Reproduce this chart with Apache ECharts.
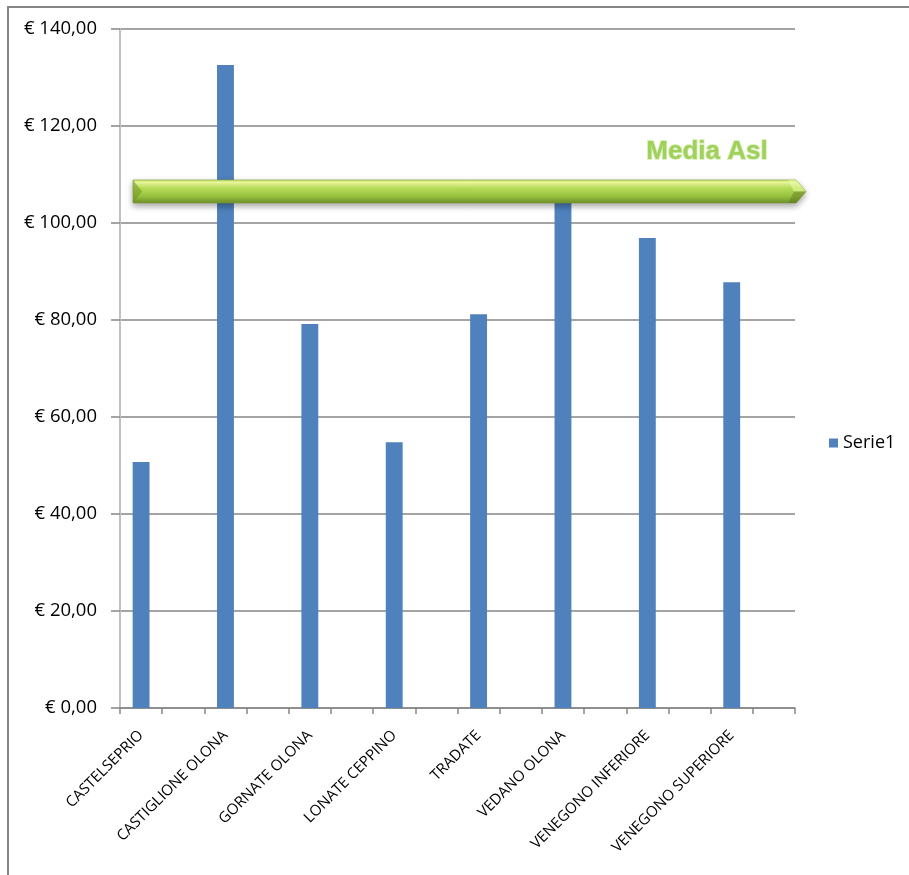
<!DOCTYPE html>
<html>
<head>
<meta charset="utf-8">
<script src="https://cdn.jsdelivr.net/npm/echarts@6/dist/echarts.min.js"></script>
<style>
  html, body { margin: 0; padding: 0; background: #fff; }
  #chart { width: 909px; height: 875px; }
</style>
</head>
<body>
<div id="chart"></div>
<script>
// Comuni of the ASL district and their per-capita cost (euro)
const comuni = [
  'CASTELSEPRIO', 'CASTIGLIONE OLONA', 'GORNATE OLONA', 'LONATE CEPPINO',
  'TRADATE', 'VEDANO OLONA', 'VENEGONO INFERIORE', 'VENEGONO SUPERIORE'
];
const serie1 = [50.7, 132.6, 79.2, 54.8, 81.2, 105.5, 96.9, 87.8];
// ASL average, drawn as the green arrow
const mediaAsl = 106.5;
const yTicks = [0, 20, 40, 60, 80, 100, 120, 140];

// The source sheet has an empty row after every comune,
// so each name is followed by a blank category slot.
const categories = [];
const values = [];
comuni.forEach((c, i) => {
  categories.push(c, '');
  values.push(serie1[i], '-');
});

const fmtEuro = v => '€ ' + v.toFixed(2).replace('.', ',');

const chart = echarts.init(document.getElementById('chart'), null, { renderer: 'canvas' });

const option = {
  backgroundColor: '#ffffff',
  animation: false,
  grid: { left: 120, right: 114, top: 29, bottom: 167, containLabel: false },
  legend: {
    data: ['Serie1'],
    left: 824, top: 429,
    itemWidth: 9, itemHeight: 9, itemGap: 6,
    icon: 'rect',
    textStyle: { fontFamily: 'Open Sans', fontSize: 18, color: '#000' }
  },
  xAxis: {
    type: 'category',
    data: categories,
    boundaryGap: true,
    axisLine: { lineStyle: { color: '#868686', width: 1.5 } },
    axisTick: { show: true, interval: 0, length: 6, lineStyle: { color: '#868686', width: 1.5 } },
    axisLabel: {
      interval: 1, rotate: 45, margin: 25,
      fontFamily: 'Open Sans', fontSize: 15, color: '#000'
    },
    splitLine: { show: false }
  },
  yAxis: {
    type: 'value',
    min: yTicks[0], max: yTicks[yTicks.length - 1], interval: 20,
    axisLine: { show: true, lineStyle: { color: '#c0c0c0', width: 2 } },
    axisTick: { show: true, length: 9, lineStyle: { color: '#868686', width: 1.5 } },
    axisLabel: {
      formatter: fmtEuro, margin: 23,
      fontFamily: 'Open Sans', fontSize: 18.5, color: '#000'
    },
    splitLine: { show: true, lineStyle: { color: '#868686', width: 1.5 } }
  },
  series: [{
    name: 'Serie1',
    type: 'bar',
    data: values,
    barWidth: '40%',
    itemStyle: { color: '#4f81bd' },
    z: 2
  }]
};
chart.setOption(option);

// Green "Media Asl" arrow, placed at the ASL average on the value axis
function drawAnnotations() {
  const yMid = chart.convertToPixel({ gridIndex: 0 }, [0, mediaAsl])[1];
  const gridLeft = 120, gridRight = 909 - 114;
  const x0 = gridLeft + 13, x1 = gridRight + 1, tip = gridRight + 11;
  const half = 11.5;
  const top = yMid - half, bot = yMid + half;
  const grad = new echarts.graphic.LinearGradient(0, 0, 0, 1, [
    { offset: 0, color: '#c7e66a' },
    { offset: 0.12, color: '#eefc9c' },
    { offset: 0.35, color: '#b9dd5a' },
    { offset: 0.7, color: '#96c13e' },
    { offset: 1, color: '#6f8f2b' }
  ]);
  chart.setOption({
    graphic: [
      // outer chart frame
      {
        type: 'rect', silent: true, z: 0,
        shape: { x: 8, y: 7, width: 1000, height: 1000 },
        style: { fill: 'none', stroke: '#868686', lineWidth: 2 }
      },
      {
        type: 'polygon', z: 10, silent: true,
        shape: { points: [[x0, top], [x1, top], [tip, yMid], [x1, bot], [x0, bot]] },
        style: {
          fill: grad,
          stroke: '#7c9c30', lineWidth: 0.6,
          shadowColor: 'rgba(0,0,0,0.35)', shadowBlur: 6, shadowOffsetY: 3
        }
      },
      // bevel facets on the ends
      {
        type: 'polygon', z: 11, silent: true,
        shape: { points: [[x0, top], [x0 + 9, yMid], [x0, bot]] },
        style: { fill: 'rgba(110,150,40,0.55)' }
      },
      {
        type: 'polygon', z: 11, silent: true,
        shape: { points: [[x1 - 8, top], [x1, top], [tip, yMid], [x1 - 2, yMid]] },
        style: { fill: 'rgba(230,250,160,0.6)' }
      },
      {
        type: 'polygon', z: 11, silent: true,
        shape: { points: [[x1 - 2, yMid], [tip, yMid], [x1, bot], [x1 - 8, bot]] },
        style: { fill: 'rgba(90,120,30,0.45)' }
      },
      {
        type: 'text', z: 12, silent: true,
        x: 707, y: yMid - 40,
        style: {
          text: 'Media Asl',
          font: 'bold 26px "Liberation Sans", Arial, sans-serif',
          fill: '#9fd15c',
          stroke: '#d3edab', lineWidth: 1.5,
          align: 'center', verticalAlign: 'middle',
          shadowColor: 'rgba(120,170,60,0.6)', shadowBlur: 4
        }
      }
    ]
  });
}
drawAnnotations();
</script>
</body>
</html>
